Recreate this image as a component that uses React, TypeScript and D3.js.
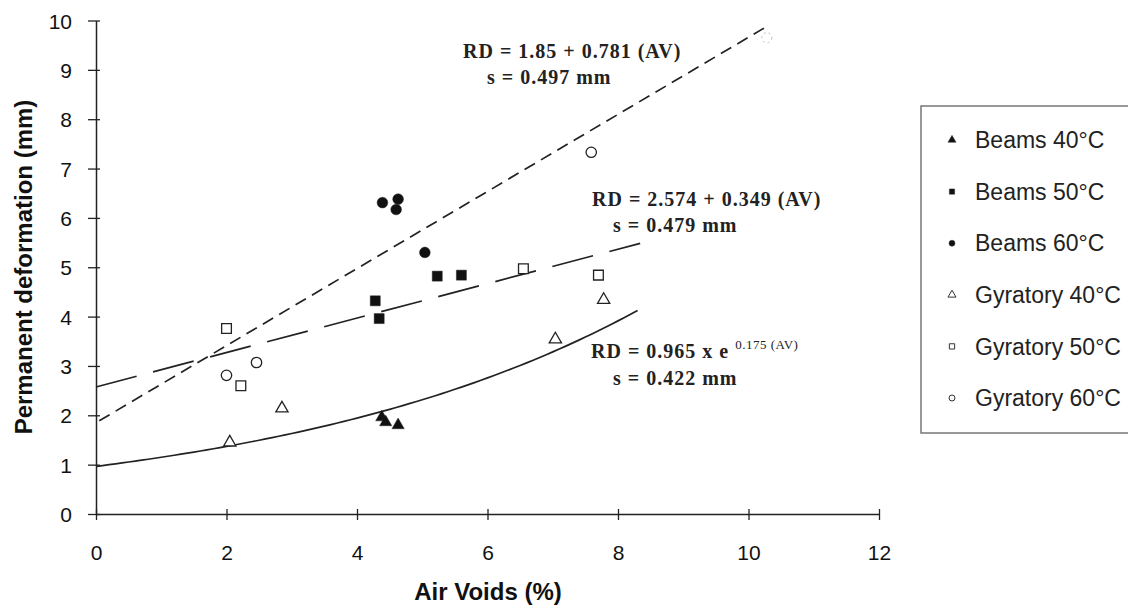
import React, { useEffect, useRef } from 'react';
import * as d3 from 'd3';

const beams40 = [[4.38, 1.96], [4.44, 1.86], [4.63, 1.8]];
const beams50 = [[4.28, 4.32], [4.34, 3.96], [5.23, 4.82], [5.6, 4.84]];
const beams60 = [[4.39, 6.31], [4.63, 6.38], [4.6, 6.17], [5.04, 5.3]];
const gyr40 = [[2.05, 1.45], [2.85, 2.14], [7.04, 3.54], [7.78, 4.34]];
const gyr50 = [[2.0, 3.76], [2.22, 2.6], [6.55, 4.97], [7.7, 4.84]];
const gyr60 = [[2.0, 2.81], [2.46, 3.07], [7.59, 7.33]];
const gyr60Faint = [[10.28, 9.65]];

const xTicks = [0, 2, 4, 6, 8, 10, 12];
const yTicks = [0, 1, 2, 3, 4, 5, 6, 7, 8, 9, 10];

const legendLabels = ['Beams 40°C', 'Beams 50°C', 'Beams 60°C', 'Gyratory 40°C', 'Gyratory 50°C', 'Gyratory 60°C'];

// regression fits printed on the chart
const fit60 = (av: number) => 1.85 + 0.781 * av;
const fit50 = (av: number) => 2.574 + 0.349 * av;
const fit40 = (av: number) => 0.965 * Math.exp(0.175 * av);

const App = () => {
  const svgRef = useRef<SVGSVGElement>(null);

  useEffect(() => {
    if (!svgRef.current) return;
    const svg = d3.select(svgRef.current);
    svg.selectAll('*').remove();

    const x = d3.scaleLinear().domain([0, 12]).range([96, 879]);
    const y = d3.scaleLinear().domain([0, 10]).range([514, 20.5]);

    const sans = 'Liberation Sans, Arial, sans-serif';
    const serif = 'Liberation Serif, Times New Roman, serif';

    // axes
    const xAxis = svg.append('g').attr('transform', `translate(0,${y(0)})`)
      .call(d3.axisBottom(x).tickValues(xTicks).tickSize(6).tickSizeOuter(0));
    xAxis.select('.domain').attr('stroke', '#222').attr('stroke-width', 1.5);
    xAxis.selectAll('.tick line').attr('y1', -5).attr('y2', 6).attr('stroke', '#222').attr('stroke-width', 1.3);
    xAxis.selectAll('.tick text').attr('y', 46).attr('dy', 0)
      .style('font-family', sans).style('font-size', '21px').attr('fill', '#111');

    const yAxis = svg.append('g').attr('transform', `translate(${x(0)},0)`)
      .call(d3.axisLeft(y).tickValues(yTicks).tickSize(8).tickSizeOuter(0));
    yAxis.select('.domain').attr('stroke', '#222').attr('stroke-width', 1.5);
    yAxis.selectAll('.tick line').attr('x1', -8).attr('x2', 4).attr('stroke', '#222').attr('stroke-width', 1.3);
    yAxis.selectAll('.tick text').attr('x', -24).attr('dy', '0.36em')
      .style('font-family', sans).style('font-size', '21px').attr('fill', '#111');

    // axis titles
    svg.append('text')
      .attr('x', 488).attr('y', 600)
      .attr('text-anchor', 'middle')
      .style('font-family', sans).style('font-size', '24px').style('font-weight', 'bold')
      .attr('fill', '#111')
      .text('Air Voids (%)');

    svg.append('text')
      .attr('transform', `translate(32,267) rotate(-90)`)
      .attr('text-anchor', 'middle')
      .style('font-family', sans).style('font-size', '24px').style('font-weight', 'bold')
      .attr('fill', '#111')
      .text('Permanent deformation (mm)');

    // fitted curves
    const line = d3.line<number>().x(d => x(d)).y(d => y(fit60(d)));
    svg.append('path')
      .datum([0.05, 10.3])
      .attr('d', line)
      .attr('fill', 'none').attr('stroke', '#222').attr('stroke-width', 1.7)
      .attr('stroke-dasharray', '12,7');

    const line50 = d3.line<number>().x(d => x(d)).y(d => y(fit50(d)));
    svg.append('path')
      .datum([0, 8.34])
      .attr('d', line50)
      .attr('fill', 'none').attr('stroke', '#222').attr('stroke-width', 1.7)
      .attr('stroke-dasharray', '42,17');

    const line40 = d3.line<number>().x(d => x(d)).y(d => y(fit40(d))).curve(d3.curveMonotoneX);
    svg.append('path')
      .datum(d3.range(0, 8.36, 0.1))
      .attr('d', line40)
      .attr('fill', 'none').attr('stroke', '#222').attr('stroke-width', 1.7);

    // markers
    const sym = (type: d3.SymbolType, size: number) => d3.symbol().type(type).size(size)();
    const series = [
      { pts: beams40, type: d3.symbolTriangle, filled: true, size: 65 },
      { pts: beams50, type: d3.symbolSquare, filled: true, size: 100 },
      { pts: beams60, type: d3.symbolCircle, filled: true, size: 90 },
      { pts: gyr40, type: d3.symbolTriangle, filled: false, size: 65 },
      { pts: gyr50, type: d3.symbolSquare, filled: false, size: 95 },
      { pts: gyr60, type: d3.symbolCircle, filled: false, size: 85 },
    ];

    series.forEach(s => {
      svg.append('g').selectAll('path')
        .data(s.pts)
        .enter()
        .append('path')
        .attr('transform', d => `translate(${x(d[0])},${y(d[1])})`)
        .attr('d', sym(s.type, s.size))
        .attr('fill', s.filled ? '#111' : '#fff')
        .attr('stroke', '#222')
        .attr('stroke-width', s.filled ? 0.5 : 1.3);
    });

    // faded point at the end of the top line
    svg.append('g').selectAll('path')
      .data(gyr60Faint)
      .enter()
      .append('path')
      .attr('transform', d => `translate(${x(d[0])},${y(d[1])})`)
      .attr('d', sym(d3.symbolCircle, 80))
      .attr('fill', '#fff')
      .attr('stroke', '#bbb')
      .attr('stroke-width', 1)
      .attr('stroke-dasharray', '2,3');

    // equations
    const eq = svg.append('g')
      .style('font-family', serif).style('font-size', '20px').style('font-weight', 'bold')
      .style('letter-spacing', '1px')
      .attr('fill', '#222');
    eq.append('text').attr('x', 463).attr('y', 58).text('RD = 1.85 + 0.781 (AV)');
    eq.append('text').attr('x', 487).attr('y', 84).text('s = 0.497 mm');
    eq.append('text').attr('x', 592).attr('y', 206).text('RD = 2.574 + 0.349 (AV)');
    eq.append('text').attr('x', 613).attr('y', 232).text('s = 0.479 mm');
    const eq3 = eq.append('text').attr('x', 591).attr('y', 358);
    eq3.append('tspan').text('RD = 0.965  x e ');
    eq3.append('tspan').attr('dy', -9).style('font-size', '13px').style('font-weight', 'normal')
      .style('letter-spacing', '0.5px').text('0.175 (AV)');
    eq.append('text').attr('x', 613).attr('y', 385).text('s = 0.422 mm');

    // legend
    svg.append('rect')
      .attr('x', 921).attr('y', 106).attr('width', 220).attr('height', 327)
      .attr('fill', '#fff').attr('stroke', '#777').attr('stroke-width', 1.5);

    const legendY = d3.scalePoint().domain(legendLabels).range([140, 398]);
    const lg = svg.append('g').selectAll('g')
      .data(legendLabels)
      .enter()
      .append('g')
      .attr('transform', d => `translate(0,${legendY(d)})`);

    lg.append('path')
      .attr('transform', 'translate(952,0)')
      .attr('d', (d, i) => sym(series[i].type, 28))
      .attr('fill', (d, i) => (series[i].filled ? '#111' : '#fff'))
      .attr('stroke', '#333')
      .attr('stroke-width', (d, i) => (series[i].filled ? 0.5 : 1));

    lg.append('text')
      .attr('x', 975).attr('dy', '0.36em')
      .style('font-family', sans).style('font-size', '23px')
      .attr('fill', '#222')
      .text(d => d);
  }, []);

  return (
    <svg
      ref={svgRef}
      width={1128}
      height={605}
      style={{ position: 'absolute', left: 0, top: 0, background: '#fff' }}
    />
  );
};

export default App;
